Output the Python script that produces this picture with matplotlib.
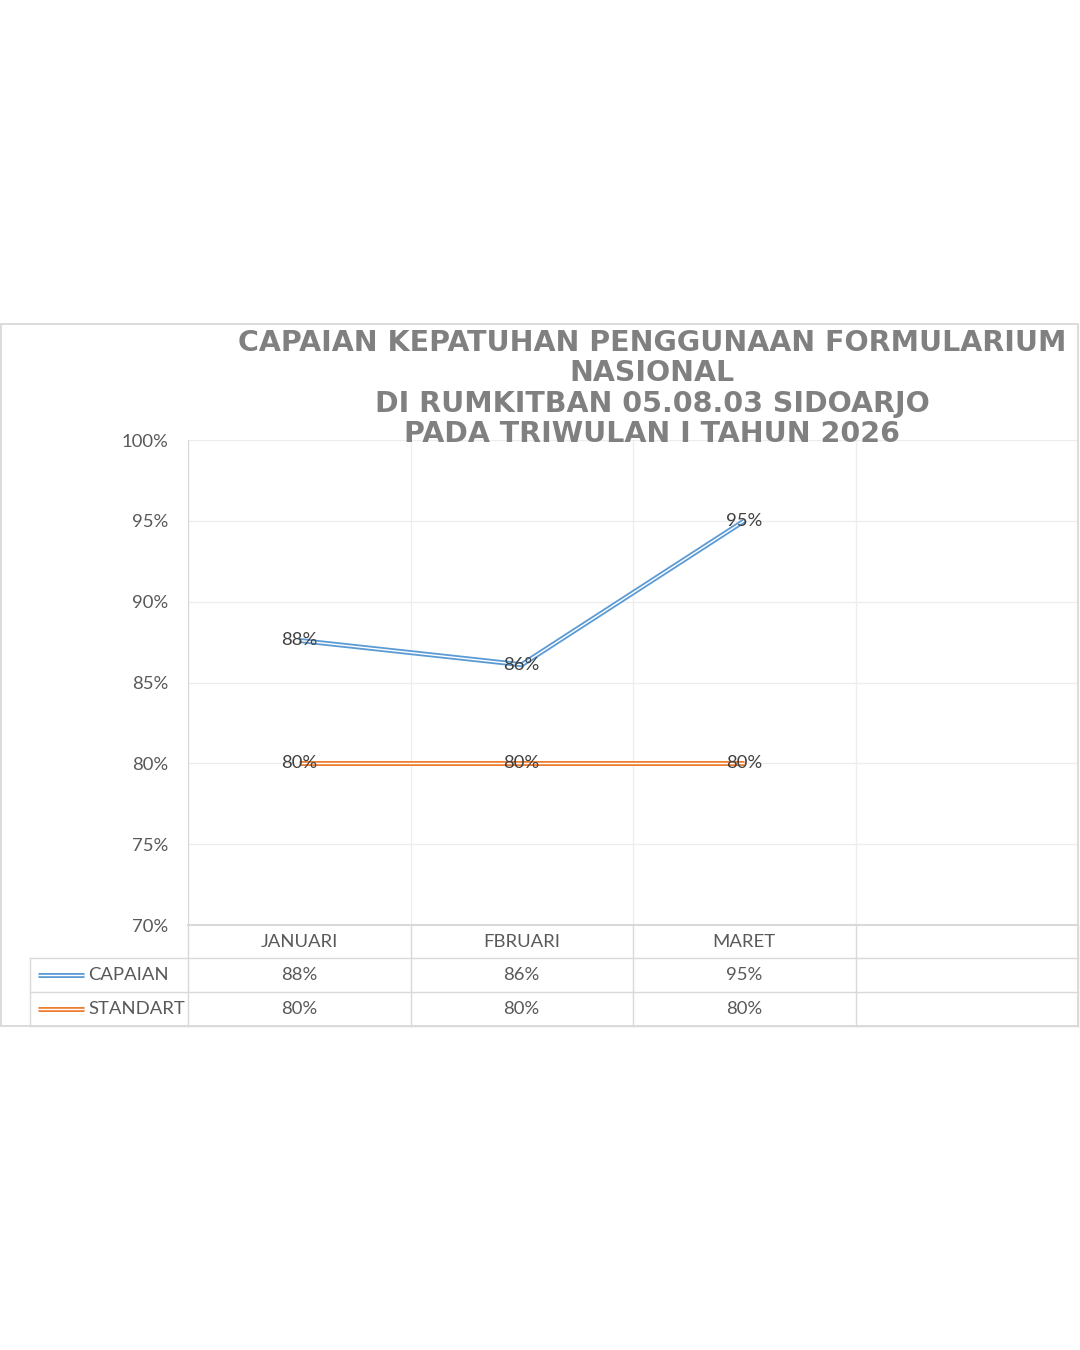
import matplotlib
matplotlib.use("Agg")
import matplotlib.pyplot as plt
from matplotlib.lines import Line2D
from matplotlib.patches import Rectangle

# chart data
months = ["JANUARI", "FBRUARI", "MARET"]
capaian = [87.6, 86.1, 95.0]
standart = [80.0, 80.0, 80.0]
series_names = ["CAPAIAN", "STANDART"]
series_colors = ["#5B9BD5", "#ED7D31"]
title_lines = [
    "CAPAIAN KEPATUHAN PENGGUNAAN FORMULARIUM",
    "NASIONAL",
    "DI RUMKITBAN 05.08.03 SIDOARJO",
    "PADA TRIWULAN I TAHUN 2026",
]
yticks = [70, 75, 80, 85, 90, 95, 100]

W, H = 1080, 1350
fig = plt.figure(figsize=(W / 100, H / 100), dpi=100)
fig.patch.set_facecolor("white")


def fx(px):
    return px / W


def fy(py):
    return 1 - py / H


TXT = "#595959"
GRID = "#EDEDED"
BORDER = "#D9D9D9"
FONT = ["Lato", "DejaVu Sans"]
FS = 13.3
LW_OUT, LW_IN = 3.6, 1.0

# outer chart border
fig.add_artist(Rectangle((fx(1), fy(1026)), fx(1077), (1026 - 324) / H,
                         transform=fig.transFigure, fill=False,
                         edgecolor=BORDER, lw=1.3))

# plot area: 4 category slots, last one empty
left, right, top, bottom = 188, 1078, 440, 925
ax = fig.add_axes([fx(left), fy(bottom), fx(right - left), (bottom - top) / H])
ax.set_xlim(-0.5, 3.5)
ax.set_ylim(70, 100)
for s in ax.spines.values():
    s.set_visible(False)
ax.set_xticks([])
ax.set_yticks(yticks)
ax.set_yticklabels([f"{v}%" for v in yticks], color=TXT, fontsize=FS,
                   family=FONT)
ax.tick_params(axis="y", length=0, pad=14)
for v in yticks:
    ax.axhline(v, color=GRID, lw=0.9, zorder=0)
for b in [0.5, 1.5, 2.5]:
    ax.axvline(b, color=GRID, lw=0.9, zorder=0)
ax.axvline(-0.5, color=BORDER, lw=1.0, zorder=0)
ax.axhline(70, color=BORDER, lw=1.5, zorder=1, clip_on=False)

xs = list(range(len(months)))
for vals, col in zip([capaian, standart], series_colors):
    ax.plot(xs, vals, color=col, lw=LW_OUT, solid_capstyle="butt",
            solid_joinstyle="miter", zorder=3)
    ax.plot(xs, vals, color="white", lw=LW_IN, solid_capstyle="butt",
            solid_joinstyle="miter", zorder=4)
    for x, v in zip(xs, vals):
        ax.text(x, v, f"{v:.0f}%", ha="center", va="center", fontsize=FS,
                color="#404040", family=FONT, zorder=5)

# title
for i, line in enumerate(title_lines):
    fig.text(fx(652), fy(343 + 30.3 * i), line, ha="center", va="center",
             fontsize=20.5, fontweight="bold", color="#808080",
             family="DejaVu Sans")

# data table below the plot
col_w = (right - left) / 4
rows_y = [925, 958, 992, 1026]
tl = 30
for y in rows_y[1:]:
    fig.add_artist(Line2D([fx(tl), fx(right)], [fy(y), fy(y)],
                          transform=fig.transFigure, color=BORDER, lw=1.0))
fig.add_artist(Line2D([fx(tl), fx(tl)], [fy(958), fy(1026)],
                      transform=fig.transFigure, color=BORDER, lw=1.0))
for k in range(5):
    x = left + col_w * k
    fig.add_artist(Line2D([fx(x), fx(x)], [fy(925), fy(1026)],
                          transform=fig.transFigure, color=BORDER, lw=1.0))

for k, m in enumerate(months):
    cx = left + col_w * (k + 0.5)
    fig.text(fx(cx), fy(942), m, ha="center", va="center", fontsize=FS,
             color=TXT, family=FONT)

for r, (name, vals, col) in enumerate(zip(series_names, [capaian, standart],
                                          series_colors)):
    cy = (rows_y[r + 1] + rows_y[r + 2]) / 2
    fig.add_artist(Line2D([fx(38), fx(84)], [fy(cy), fy(cy)],
                          transform=fig.transFigure, color=col, lw=LW_OUT,
                          solid_capstyle="butt"))
    fig.add_artist(Line2D([fx(38), fx(84)], [fy(cy), fy(cy)],
                          transform=fig.transFigure, color="white", lw=LW_IN,
                          solid_capstyle="butt"))
    fig.text(fx(88), fy(cy), name, ha="left", va="center", fontsize=FS,
             color=TXT, family=FONT)
    for k, v in enumerate(vals):
        cx = left + col_w * (k + 0.5)
        fig.text(fx(cx), fy(cy), f"{v:.0f}%", ha="center", va="center",
                 fontsize=FS, color=TXT, family=FONT)

fig.savefig("out.png", dpi=100, facecolor="white")
